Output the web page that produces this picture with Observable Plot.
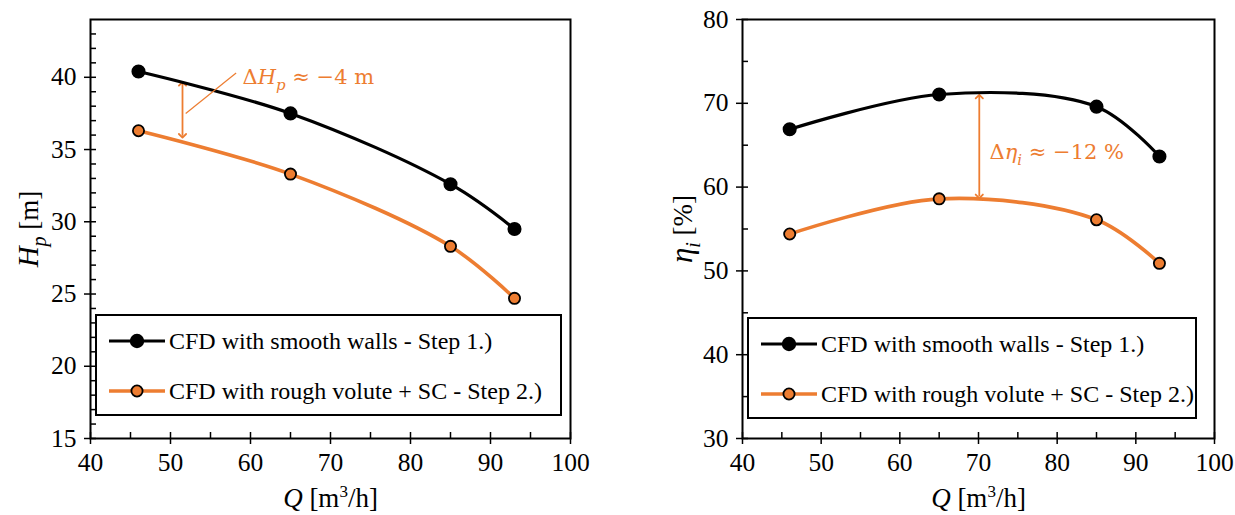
<!DOCTYPE html>
<html><head><meta charset="utf-8">
<script src="https://cdn.jsdelivr.net/npm/d3@7"></script>
<script src="https://cdn.jsdelivr.net/npm/@observablehq/plot@0.6"></script>
<style>
body{margin:0;background:#fff;}
#wrap{position:relative;width:1235px;height:515px;overflow:hidden;font-family:"Liberation Serif","Times New Roman",Times,Tinos,"DejaVu Serif",serif;}
.panel{position:absolute;top:0;}
.legend{position:absolute;border:2px solid #000;box-sizing:border-box;background:#fff;font-size:24px;color:#000;}
.row{position:absolute;left:12px;display:flex;align-items:center;height:28px;white-space:nowrap;}
.row svg{margin-right:4px;}
</style></head><body><div id="wrap"></div>
<script>
// ---- data ----
const Q = [46, 65, 85, 93];
const headSmooth = [40.4, 37.5, 32.6, 29.5];
const headRough = [36.3, 33.3, 28.3, 24.7];
const effSmooth = [66.9, 71.05, 69.6, 63.65];
const effRough = [54.4, 58.6, 56.1, 50.9];
const seriesNames = ["CFD with smooth walls - Step 1.)", "CFD with rough volute + SC - Step 2.)"];
const xTicks = [40, 50, 60, 70, 80, 90, 100];
const xMinor = [45, 55, 65, 75, 85, 95];
const headTicks = [15, 20, 25, 30, 35, 40];
const headMinor = [16,17,18,19,21,22,23,24,26,27,28,29,31,32,33,34,36,37,38,39,41,42,43];
const effTicks = [30, 40, 50, 60, 70, 80];
const effMinor = [35, 45, 55, 65, 75];
// annotation: double arrow [Q, from, to], label [Q, value], leader [Q1, v1, Q2, v2]
const headArrow = [51.5, 39.55, 35.95];
const headLeader = [51.9, 37.5, 58.2, 40.3];
const headNote = [59.0, 40.0];
const effArrow = [70.1, 70.8, 58.9];
const effNote = [71.4, 64.1];

const BLACK = "#000", ORANGE = "#ED7D31";
const SERIF = '"Liberation Serif","Times New Roman",Times,Tinos,"DejaVu Serif",serif';
const H = 515;

function panel(o) {
  const mT = 19, mB = H - 438;
  const innerW = o.width - o.mL - o.mR, innerH = H - mT - mB;
  const s1 = Q.map((q, i) => ({q, v: o.s1[i]}));
  const s2 = Q.map((q, i) => ({q, v: o.s2[i]}));
  const marks = [
    Plot.ruleY(o.yMinor, {y: d => d, stroke: BLACK, strokeWidth: 1.5, insetRight: innerW - 6}),
    Plot.ruleY(o.yTicks, {y: d => d, stroke: BLACK, strokeWidth: 1.5, insetRight: innerW - 6}),
    Plot.ruleX(xMinor, {x: d => d, stroke: BLACK, strokeWidth: 1.5, insetTop: innerH - 6}),
    Plot.ruleX(xTicks, {x: d => d, stroke: BLACK, strokeWidth: 1.5, insetTop: innerH - 6}),
    Plot.axisX({ticks: xTicks, tickSize: 6, tickPadding: 8, fontSize: 25.5, strokeWidth: 1.5,
      label: "XLAB", labelAnchor: "center", labelOffset: 68}),
    Plot.axisY({ticks: o.yTicks, tickSize: 6, tickPadding: 8, fontSize: 25.5, strokeWidth: 1.5,
      label: "YLAB", labelAnchor: "center", labelOffset: o.labOff}),
    Plot.frame({stroke: BLACK, strokeWidth: 2}),
    Plot.link([o.arrow], {x1: d => d[0], y1: d => d[1], x2: d => d[0], y2: d => d[2],
      stroke: ORANGE, strokeWidth: 1.8, markerStart: "arrow-reverse", markerEnd: "arrow"}),
    Plot.line(s1, {x: "q", y: "v", stroke: BLACK, strokeWidth: 3.2, curve: "catmull-rom"}),
    Plot.line(s2, {x: "q", y: "v", stroke: ORANGE, strokeWidth: 3.6, curve: "catmull-rom"}),
    Plot.dot(s1, {x: "q", y: "v", r: 6.3, fill: BLACK, stroke: BLACK}),
    Plot.dot(s2, {x: "q", y: "v", r: 5.6, fill: ORANGE, stroke: BLACK, strokeWidth: 1.8}),
    Plot.text([o.note], {x: d => d[0], y: d => d[1], text: () => o.noteKey, textAnchor: "start",
      fill: ORANGE, fontSize: 21, fontFamily: "DejaVu Serif"})
  ];
  if (o.leader) marks.push(Plot.link([o.leader], {x1: d => d[0], y1: d => d[1], x2: d => d[2], y2: d => d[3],
      stroke: ORANGE, strokeWidth: 1.2}));
  const svg = Plot.plot({
    width: o.width, height: H, marginLeft: o.mL, marginRight: o.mR, marginTop: mT, marginBottom: mB,
    x: {domain: [40, 100]}, y: {domain: o.yDomain},
    style: {fontFamily: SERIF, color: BLACK, background: "white", overflow: "visible"},
    marks
  });
  svg.setAttribute("font-family", SERIF);
  d3.select(svg).selectAll("text").each(function () {
    const t = this.textContent;
    if (t.indexOf("XLAB") >= 0) {
      this.innerHTML = '<tspan font-style="italic">Q</tspan> [m<tspan dy="-10" font-size="17">3</tspan><tspan dy="10">/h]</tspan>';
      this.setAttribute("font-size", 27);
    } else if (t.indexOf("YLAB") >= 0) {
      this.innerHTML = o.ylab;
      this.setAttribute("font-size", 27);
    } else if (t === o.noteKey) {
      this.innerHTML = o.noteHtml;
    }
  });
  const div = document.createElement("div");
  div.className = "panel";
  div.style.left = o.left + "px";
  div.appendChild(svg);
  return div;
}

function legend(box) {
  const el = document.createElement("div");
  el.className = "legend";
  Object.assign(el.style, {left: box[0] + "px", top: box[1] + "px", width: box[2] + "px", height: box[3] + "px"});
  const styles = [
    {stroke: BLACK, sw: 3.2, fill: BLACK, r: 6.3, dotStroke: BLACK},
    {stroke: ORANGE, sw: 3.6, fill: ORANGE, r: 5.6, dotStroke: BLACK}
  ];
  seriesNames.forEach((name, i) => {
    const s = styles[i];
    const row = document.createElement("div");
    row.className = "row";
    row.style.top = (i === 0 ? 11 : 61) + "px";
    row.innerHTML = `<svg width="56" height="20"><line x1="0" y1="10" x2="56" y2="10" stroke="${s.stroke}" stroke-width="${s.sw}"/><circle cx="28" cy="10" r="${s.r}" fill="${s.fill}" stroke="${s.dotStroke}" stroke-width="1.8"/></svg><span>${name}</span>`;
    el.appendChild(row);
  });
  return el;
}

const wrap = document.getElementById("wrap");
wrap.appendChild(panel({
  left: 0, width: 617, mL: 90, mR: 47, yDomain: [15, 44], yTicks: headTicks, yMinor: headMinor,
  s1: headSmooth, s2: headRough, labOff: 72, arrow: headArrow, leader: headLeader, note: headNote,
  noteKey: "NOTE_H",
  ylab: '<tspan font-style="italic" font-size="29">H</tspan><tspan font-style="italic" dy="8" font-size="20">p</tspan><tspan dy="-8"> [m]</tspan>',
  noteHtml: 'Δ<tspan font-style="italic">H</tspan><tspan font-style="italic" dy="6" font-size="15">p</tspan><tspan dy="-6"> ≈ −4 m</tspan>'
}));
wrap.appendChild(panel({
  left: 617, width: 618, mL: 125, mR: 21, yDomain: [30, 80], yTicks: effTicks, yMinor: effMinor,
  s1: effSmooth, s2: effRough, labOff: 70, arrow: effArrow, leader: null, note: effNote,
  noteKey: "NOTE_E",
  ylab: '<tspan font-style="italic" font-size="31">η</tspan><tspan font-style="italic" dy="8" font-size="20">i</tspan><tspan dy="-8"> [%]</tspan>',
  noteHtml: 'Δ<tspan font-style="italic">η</tspan><tspan font-style="italic" dy="6" font-size="15">i</tspan><tspan dy="-6"> ≈ −12 %</tspan>'
}));
wrap.appendChild(legend([95, 314, 467, 102]));
wrap.appendChild(legend([747, 317, 450, 102]));
</script>
</body></html>
